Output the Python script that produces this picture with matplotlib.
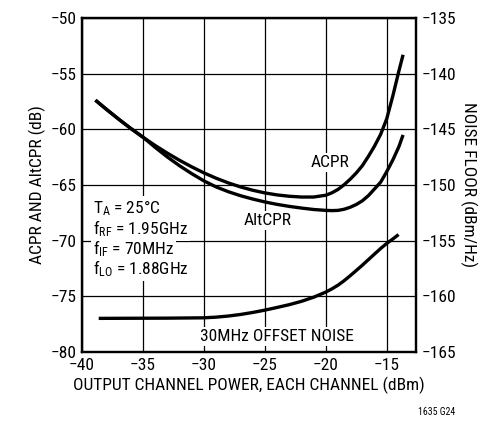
import matplotlib
matplotlib.use("Agg")
import matplotlib.pyplot as plt

FONT = "Roboto Condensed"
plt.rcParams['font.family'] = [FONT, 'DejaVu Sans']
plt.rcParams['mathtext.fontset'] = 'custom'
plt.rcParams['mathtext.rm'] = FONT
plt.rcParams['mathtext.it'] = FONT
plt.rcParams['axes.unicode_minus'] = True

# Data
acpr_x = [-38.9, -38, -37, -36, -35, -34, -33, -32, -31, -30, -29, -28, -27, -26, -25, -24, -23,
          -22, -21, -20, -19.5, -19, -18.5, -18, -17.5, -17, -16.5, -16, -15.5, -15, -14.5, -14, -13.66]
acpr_y = [-57.38, -58.20, -59.08, -59.92, -60.71, -61.45, -62.14, -62.78, -63.37, -63.91, -64.39,
          -64.81, -65.17, -65.47, -65.71, -65.89, -66.01, -66.08, -66.08, -65.92, -65.70, -65.40,
          -64.98, -64.48, -63.92, -63.26, -62.42, -61.50, -60.45, -59.05, -57.00, -54.75, -53.30]

alt_x = [-38.9, -38, -37, -36, -35, -34, -33, -32, -31, -30, -29, -28, -27, -26, -25, -24, -23,
         -22, -21, -20, -19.5, -19, -18.5, -18, -17.5, -17, -16.5, -16, -15.5, -15, -14.5, -14, -13.66]
alt_y = [-57.38, -58.20, -59.08, -59.92, -60.70, -61.62, -62.48, -63.27, -63.98, -64.63, -65.17,
         -65.60, -65.96, -66.26, -66.52, -66.74, -66.92, -67.07, -67.20, -67.28, -67.30, -67.28,
         -67.18, -67.00, -66.75, -66.42, -65.95, -65.35, -64.75, -63.80, -62.75, -61.55, -60.50]

noise_x = [-38.63, -36, -33, -30, -29, -28, -27, -26, -25, -24, -23, -22, -21, -20, -19.5, -19,
           -18.5, -18, -17.5, -17, -16.5, -16, -15.5, -15, -14.5, -14.03]
noise_y = [-161.98, -161.97, -161.96, -161.93, -161.87, -161.77, -161.63, -161.45, -161.24, -161.00,
           -160.75, -160.45, -160.08, -159.62, -159.33, -159.00, -158.60, -158.15, -157.68, -157.20,
           -156.70, -156.20, -155.70, -155.25, -154.85, -154.45]

xticks = [-40, -35, -30, -25, -20, -15]
left_ticks = [-80, -75, -70, -65, -60, -55, -50]
right_ticks = [-165, -160, -155, -150, -145, -140, -135]

fig = plt.figure(figsize=(4.92, 4.29), dpi=100)
ax = fig.add_axes([0.1667, 0.1795, 0.6788, 0.7785])
ax.set_xlim(-40, -12.6)
ax.set_ylim(-80, -50)
ax.set_xticks(xticks)
ax.set_yticks(left_ticks)
ax.grid(True, color='black', lw=0.9)
ax.tick_params(length=0, labelsize=12.5, pad=4)
for s in ax.spines.values():
    s.set_linewidth(1.6)

line_kw = dict(color='black', lw=2.4, solid_capstyle='butt', solid_joinstyle='round', zorder=3)
ax.plot(acpr_x, acpr_y, **line_kw)
ax.plot(alt_x, alt_y, **line_kw)

ax2 = ax.twinx()
ax2.set_ylim(-165, -135)
ax2.set_yticks(right_ticks)
ax2.tick_params(length=0, labelsize=12.5, pad=4)
for s in ax2.spines.values():
    s.set_linewidth(1.6)
ax2.plot(noise_x, noise_y, **line_kw)

ax.set_xlabel("OUTPUT CHANNEL POWER, EACH CHANNEL (dBm)", fontsize=12.5, labelpad=3)
ax.set_ylabel("ACPR AND AltCPR (dB)", fontsize=12.5, labelpad=3)
ax2.set_ylabel("NOISE FLOOR (dBm/Hz)", fontsize=12.5, rotation=-90, labelpad=15)

bb = dict(facecolor='white', edgecolor='none', pad=1.5)
lab_kw = dict(fontsize=12.5, ha='center', va='center', bbox=bb, zorder=4)
ax.text(-19.67, -63.0, "ACPR", **lab_kw)
ax.text(-24.75, -68.2, "AltCPR", **lab_kw)
ax.text(-24.0, -78.6, "30MHz OFFSET NOISE", **lab_kw)

ann = [r"T$_\mathregular{A}$ = 25°C",
       r"f$_\mathregular{RF}$ = 1.95GHz",
       r"f$_\mathregular{IF}$ = 70MHz",
       r"f$_\mathregular{LO}$ = 1.88GHz"]
ann_y = [-67.1, -68.9, -70.7, -72.5]
for t, yv in zip(ann, ann_y):
    ax.text(-39.1, yv, t, fontsize=12.5, ha='left', va='center', bbox=bb, zorder=4)

fig.text(0.888, 0.04, "1635 G24", fontsize=7, ha='center', va='center')

fig.savefig("out.png", dpi=100)
